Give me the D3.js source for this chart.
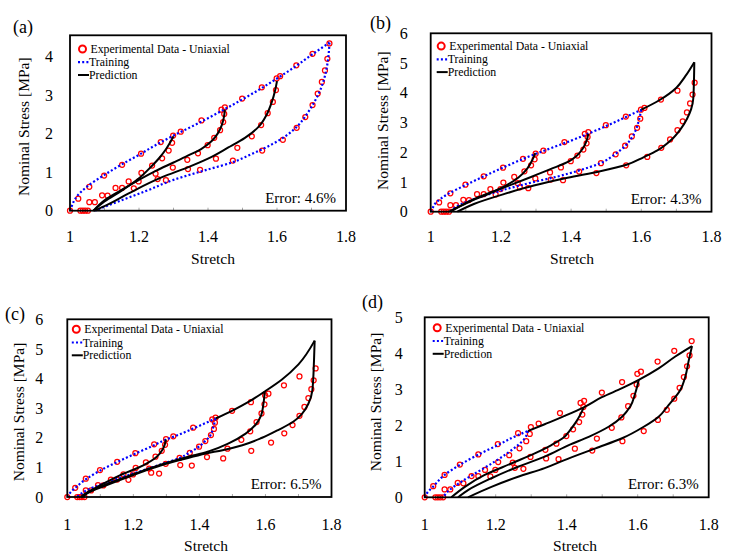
<!DOCTYPE html>
<html>
<head>
<meta charset="utf-8">
<script src="https://cdn.jsdelivr.net/npm/d3@7/dist/d3.min.js"></script>
<style>
  html, body { margin: 0; padding: 0; background: #fff; }
  svg { display: block; }
  svg text { font-family: 'Liberation Serif', 'DejaVu Serif', 'Times New Roman', serif; fill: #000; }
</style>
</head>
<body>
<svg id="chart" width="748" height="557"></svg>
<script>
// ---- experimental data (same test in all four panels): [stretch, stress MPa]
const expLoading = [[1.000,0.00],[1.024,0.31],[1.056,0.62],[1.099,0.91],[1.151,1.19],[1.206,1.48],
  [1.263,1.78],[1.299,1.95],[1.321,2.05],[1.381,2.34],[1.439,2.62],[1.449,2.68],[1.499,2.91],
  [1.556,3.20],[1.599,3.43],[1.609,3.49],[1.656,3.77],[1.703,4.07],[1.752,4.34]];
const expUnload130 = [[1.296,1.76],[1.286,1.56],[1.267,1.36],[1.238,1.17],[1.207,0.98],[1.170,0.76],
  [1.132,0.59],[1.093,0.40],[1.056,0.22],[1.030,0.00]];
const expUnload145 = [[1.447,2.51],[1.444,2.30],[1.435,2.09],[1.418,1.89],[1.399,1.70],[1.371,1.49],
  [1.340,1.32],[1.298,1.12],[1.248,0.96],[1.199,0.76],[1.151,0.59],[1.109,0.39],[1.072,0.22],[1.037,0.00]];
const expUnload160 = [[1.597,3.13],[1.588,2.82],[1.573,2.53],[1.554,2.22],[1.527,1.93],[1.485,1.63],
  [1.423,1.35],[1.342,1.08],[1.278,0.79],[1.185,0.58],[1.044,0.00]];
const expUnload175 = [[1.746,3.94],[1.739,3.64],[1.730,3.34],[1.718,3.04],[1.703,2.74],[1.682,2.43],
  [1.657,2.15],[1.617,1.84],[1.557,1.56],[1.472,1.30],[1.377,1.06],[1.254,0.82],[1.052,0.00]];

// ---- panel (a): trained on the 1.75 cycle
const aTrainLoad = [[1.000,0],[1.007,0.16],[1.015,0.31],[1.030,0.47],[1.050,0.63],[1.100,0.93],[1.150,1.20],
  [1.200,1.45],[1.250,1.71],[1.300,1.95],[1.350,2.17],[1.400,2.40],[1.450,2.64],[1.500,2.89],[1.550,3.15],
  [1.600,3.43],[1.650,3.72],[1.700,4.04],[1.752,4.36]];
const aTrainUnload = [[1.752,4.36],[1.749,4.00],[1.744,3.70],[1.736,3.40],[1.724,3.10],[1.707,2.80],
  [1.686,2.50],[1.660,2.20],[1.627,1.95],[1.585,1.72],[1.527,1.47],[1.469,1.25],[1.400,1.07],[1.300,0.80],
  [1.220,0.51],[1.140,0.24],[1.100,0.10],[1.073,0]];
const aPredUnload130 = [[1.300,1.93],[1.291,1.78],[1.277,1.58],[1.260,1.38],[1.235,1.14],[1.200,0.84],
  [1.150,0.52],[1.100,0.24],[1.068,0]];
const aPredUnload145 = [[1.449,2.62],[1.446,2.42],[1.440,2.22],[1.428,2.00],[1.410,1.80],[1.380,1.60],
  [1.340,1.42],[1.300,1.25],[1.250,1.04],[1.200,0.80],[1.150,0.54],[1.100,0.27],[1.068,0]];
const aPredUnload160 = [[1.600,3.36],[1.595,3.14],[1.585,2.82],[1.570,2.49],[1.547,2.18],[1.507,1.89],
  [1.459,1.64],[1.400,1.35],[1.343,1.13],[1.267,0.87],[1.170,0.45],[1.100,0.12],[1.068,0]];

// ---- panel (b): trained on the 1.6 cycle
const bTrainLoad = [[1.000,0],[1.007,0.16],[1.015,0.31],[1.030,0.45],[1.050,0.60],[1.100,0.90],[1.150,1.18],
  [1.200,1.45],[1.250,1.71],[1.300,1.95],[1.350,2.17],[1.400,2.39],[1.450,2.63],[1.500,2.88],[1.550,3.15],
  [1.600,3.43]];
const bTrainUnload = [[1.600,3.43],[1.594,3.12],[1.586,2.80],[1.573,2.49],[1.554,2.21],[1.525,1.93],
  [1.483,1.63],[1.421,1.38],[1.360,1.18],[1.294,1.00],[1.209,0.74],[1.133,0.46],[1.076,0.19],[1.057,0]];
const bPredUnload130 = [[1.298,1.97],[1.290,1.75],[1.275,1.45],[1.250,1.15],[1.210,0.85],[1.170,0.63],
  [1.104,0.30],[1.052,0]];
const bPredUnload145 = [[1.449,2.62],[1.444,2.38],[1.432,2.10],[1.416,1.88],[1.395,1.70],[1.341,1.43],
  [1.284,1.16],[1.208,0.81],[1.123,0.42],[1.057,0]];
const bPredLoad = [[1.600,3.43],[1.650,3.74],[1.700,4.17],[1.725,4.55],[1.751,5.03]];
const bPredUnload175 = [[1.751,5.03],[1.750,4.40],[1.748,3.80],[1.742,3.45],[1.730,3.12],[1.712,2.78],
  [1.684,2.40],[1.646,2.06],[1.606,1.83],[1.558,1.58],[1.483,1.36],[1.390,1.14],[1.294,0.88],
  [1.208,0.59],[1.123,0.26],[1.076,0]];

// ---- panel (c): trained on the 1.45 cycle
const cTrainLoad = [[1.000,0],[1.010,0.16],[1.023,0.30],[1.059,0.62],[1.099,0.89],[1.151,1.18],[1.205,1.46],
  [1.263,1.75],[1.299,1.94],[1.321,2.03],[1.381,2.31],[1.437,2.59],[1.449,2.65]];
const cTrainUnload = [[1.449,2.65],[1.442,2.36],[1.432,2.06],[1.415,1.86],[1.396,1.68],[1.370,1.50],
  [1.341,1.32],[1.291,1.13],[1.230,0.90],[1.169,0.68],[1.109,0.45],[1.059,0.23],[1.038,0.08],[1.030,0]];
const cPredUnload130 = [[1.299,1.94],[1.290,1.63],[1.270,1.35],[1.230,1.07],[1.159,0.73],[1.099,0.39],
  [1.050,0.08],[1.042,0]];
const cPredLoad = [[1.449,2.65],[1.500,2.92],[1.550,3.22],[1.600,3.58],[1.650,3.97],[1.700,4.48],[1.749,5.28]];
const cPredUnload160 = [[1.598,3.58],[1.594,3.15],[1.587,2.76],[1.570,2.44],[1.540,2.14],[1.490,1.82],
  [1.430,1.55],[1.380,1.40],[1.280,1.08],[1.200,0.77],[1.120,0.44],[1.060,0.14],[1.045,0]];
const cPredUnload175 = [[1.749,5.28],[1.747,4.60],[1.742,3.60],[1.730,3.15],[1.710,2.80],[1.685,2.55],
  [1.640,2.27],[1.590,2.00],[1.530,1.75],[1.470,1.58],[1.420,1.47],[1.350,1.27],[1.280,1.05],
  [1.200,0.74],[1.120,0.40],[1.060,0.12],[1.045,0]];

// ---- panel (d): trained on the 1.3 cycle
const dTrainLoad = [[1.000,0],[1.010,0.16],[1.023,0.29],[1.056,0.62],[1.099,0.90],[1.150,1.18],[1.206,1.45],
  [1.263,1.73],[1.291,1.84]];
const dTrainUnload = [[1.291,1.84],[1.282,1.64],[1.263,1.45],[1.235,1.24],[1.197,0.99],[1.150,0.71],
  [1.103,0.43],[1.065,0.16],[1.052,0]];
const dPredLoad = [[1.291,1.84],[1.338,2.03],[1.394,2.26],[1.448,2.50],[1.499,2.78],[1.556,3.03],
  [1.603,3.26],[1.659,3.58],[1.706,3.91],[1.753,4.20]];
const dPredUnload145 = [[1.448,2.50],[1.438,2.29],[1.424,2.06],[1.406,1.82],[1.394,1.68],[1.357,1.45],
  [1.310,1.22],[1.244,0.94],[1.169,0.62],[1.113,0.29],[1.075,0]];
const dPredUnload160 = [[1.603,3.26],[1.593,2.89],[1.579,2.52],[1.556,2.24],[1.518,1.96],[1.462,1.68],
  [1.406,1.45],[1.338,1.13],[1.263,0.85],[1.188,0.53],[1.122,0.20],[1.094,0]];
const dPredUnload175 = [[1.753,4.20],[1.744,3.81],[1.734,3.35],[1.720,2.98],[1.687,2.56],[1.659,2.24],
  [1.617,1.96],[1.556,1.64],[1.481,1.36],[1.390,1.02],[1.338,0.81],[1.263,0.57],[1.188,0.29],[1.122,0]];

// ---- axis ticks and labels
const xTickValues = [1, 1.2, 1.4, 1.6, 1.8];
const xMinorTicks = [1.1, 1.2, 1.3, 1.4, 1.5, 1.6, 1.7];
const legendLabels = ['Experimental Data - Uniaxial', 'Training', 'Prediction'];
const panelLetters = ['(a)', '(b)', '(c)', '(d)'];
const errorLabels = ['Error: 4.6%', 'Error: 4.3%', 'Error: 6.5%', 'Error: 6.3%'];
const yMaxValues = [4.55, 6, 6, 5];
const yTickValues = [[0,1,2,3,4], [0,1,2,3,4,5,6], [0,1,2,3,4,5,6], [0,1,2,3,4,5]];

const expSeries = [expLoading, expUnload130, expUnload145, expUnload160, expUnload175];
const trainSeries = [
  [aTrainLoad, aTrainUnload],
  [bTrainLoad, bTrainUnload],
  [cTrainLoad, cTrainUnload],
  [dTrainLoad, dTrainUnload]
];
const predSeries = [
  [aPredUnload130, aPredUnload145, aPredUnload160],
  [bPredUnload130, bPredUnload145, bPredLoad, bPredUnload175],
  [cPredUnload130, cPredLoad, cPredUnload160, cPredUnload175],
  [dPredLoad, dPredUnload145, dPredUnload160, dPredUnload175]
];

// Layout of each panel (plot box in page pixels and label placement)
const layout = [
  { left: 70,    right: 346,   top: 35.3,  bottom: 210.7, yLabGap: 17, xLabDy: 31.5, xTitle: [213, 264],
    yTitle: [23.5, 126.7], letter: [13, 33],  legX: 8,   legY: 14.2 },
  { left: 430.7, right: 711.5, top: 33.3,  bottom: 211.7, yLabGap: 23, xLabDy: 30.5, xTitle: [572, 264],
    yTitle: [383, 120.7],  letter: [370, 29], legX: 6,   legY: 13.3 },
  { left: 67.3,  right: 331.5, top: 319.3, bottom: 497,   yLabGap: 24, xLabDy: 33,   xTitle: [206, 551],
    yTitle: [19, 412],     letter: [5, 320],  legX: 4.5, legY: 10.5 },
  { left: 424.7, right: 708.7, top: 317.3, bottom: 497.3, yLabGap: 22, xLabDy: 33,   xTitle: [575, 551],
    yTitle: [376, 402],    letter: [362, 308], legX: 8,  legY: 11 }
];

const FONT = "'Liberation Serif', 'DejaVu Serif', 'Times New Roman', serif";
const svg = d3.select('#chart');
const RED = '#ff0000';
const BLUE = '#0000ff';

layout.forEach((L, i) => {
    const x = d3.scaleLinear().domain([1, 1.8]).range([L.left, L.right]);
    const y = d3.scaleLinear().domain([0, yMaxValues[i]]).range([L.bottom, L.top]);
    const g = svg.append('g').attr('font-family', FONT);

    // monotone keeps the steep unloading ends from overshooting
    const line = d3.line()
        .x(d => x(d[0]))
        .y(d => y(d[1]))
        .curve(d3.curveMonotoneY);

    // minor tick marks inside the bottom edge
    g.selectAll('.minor')
        .data(xMinorTicks)
        .enter()
        .append('line')
        .attr('x1', d => x(d)).attr('x2', d => x(d))
        .attr('y1', L.bottom).attr('y2', L.bottom - 3)
        .attr('stroke', '#aaa')
        .attr('stroke-width', 1);

    // experimental circles
    const pts = expSeries.flat();
    g.selectAll('.exp')
        .data(pts)
        .enter()
        .append('circle')
        .attr('cx', d => x(d[0]))
        .attr('cy', d => y(d[1]))
        .attr('r', 2.5)
        .attr('fill', 'none')
        .attr('stroke', RED)
        .attr('stroke-width', 1.25);

    // training (blue dotted)
    trainSeries[i].forEach(s => {
        g.append('path')
            .attr('d', line(s))
            .attr('fill', 'none')
            .attr('stroke', BLUE)
            .attr('stroke-width', 2.2)
            .attr('stroke-dasharray', '2,2.2');
    });

    // prediction (black)
    predSeries[i].forEach(s => {
        g.append('path')
            .attr('d', line(s))
            .attr('fill', 'none')
            .attr('stroke', '#000')
            .attr('stroke-width', 2)
            .attr('stroke-linejoin', 'round');
    });

    // frame
    g.append('rect')
        .attr('x', L.left).attr('y', L.top)
        .attr('width', L.right - L.left).attr('height', L.bottom - L.top)
        .attr('fill', 'none')
        .attr('stroke', '#000')
        .attr('stroke-width', 1.8);

    // y tick labels
    g.selectAll('.ylab')
        .data(yTickValues[i])
        .enter()
        .append('text')
        .attr('x', L.left - L.yLabGap)
        .attr('y', d => y(d))
        .attr('dy', '0.35em')
        .attr('text-anchor', 'end')
        .attr('font-size', 16)
        .text(d => d);

    // x tick labels
    g.selectAll('.xlab')
        .data(xTickValues)
        .enter()
        .append('text')
        .attr('x', d => x(d))
        .attr('y', L.bottom + L.xLabDy)
        .attr('text-anchor', 'middle')
        .attr('font-size', 16)
        .text(d => d3.format('~g')(d));

    // axis titles
    g.append('text')
        .attr('x', L.xTitle[0]).attr('y', L.xTitle[1])
        .attr('text-anchor', 'middle')
        .attr('font-size', 15.5)
        .text('Stretch');

    g.append('text')
        .attr('transform', `translate(${L.yTitle[0]},${L.yTitle[1]}) rotate(-90)`)
        .attr('dy', '0.35em')
        .attr('text-anchor', 'middle')
        .attr('font-size', 15.5)
        .text('Nominal Stress [MPa]');

    // panel letter
    g.append('text')
        .attr('x', L.letter[0]).attr('y', L.letter[1])
        .attr('font-size', 18)
        .text(panelLetters[i]);

    // error label
    g.append('text')
        .attr('x', L.right - 10).attr('y', L.bottom - 8)
        .attr('text-anchor', 'end')
        .attr('font-size', 15)
        .text(errorLabels[i]);

    // legend
    const lx = L.left + L.legX;
    const ly = L.top + L.legY - 0.5;
    const rows = [0, 13.2, 26];
    const legend = g.append('g');

    legend.append('circle')
        .attr('cx', lx + 4.5).attr('cy', ly + rows[0])
        .attr('r', 3.5)
        .attr('fill', 'none')
        .attr('stroke', RED)
        .attr('stroke-width', 2);

    legend.append('line')
        .attr('x1', lx).attr('x2', lx + 11)
        .attr('y1', ly + rows[1]).attr('y2', ly + rows[1])
        .attr('stroke', BLUE)
        .attr('stroke-width', 2.2)
        .attr('stroke-dasharray', '2,2.2');

    legend.append('line')
        .attr('x1', lx).attr('x2', lx + 11)
        .attr('y1', ly + rows[2]).attr('y2', ly + rows[2])
        .attr('stroke', '#000')
        .attr('stroke-width', 2);

    legendLabels.forEach((lab, k) => {
        legend.append('text')
            .attr('x', lx + (k === 0 ? 12.5 : 11))
            .attr('y', ly + rows[k])
            .attr('dy', '0.35em')
            .attr('font-size', 11.8)
            .text(lab);
    });
});
</script>
</body>
</html>
